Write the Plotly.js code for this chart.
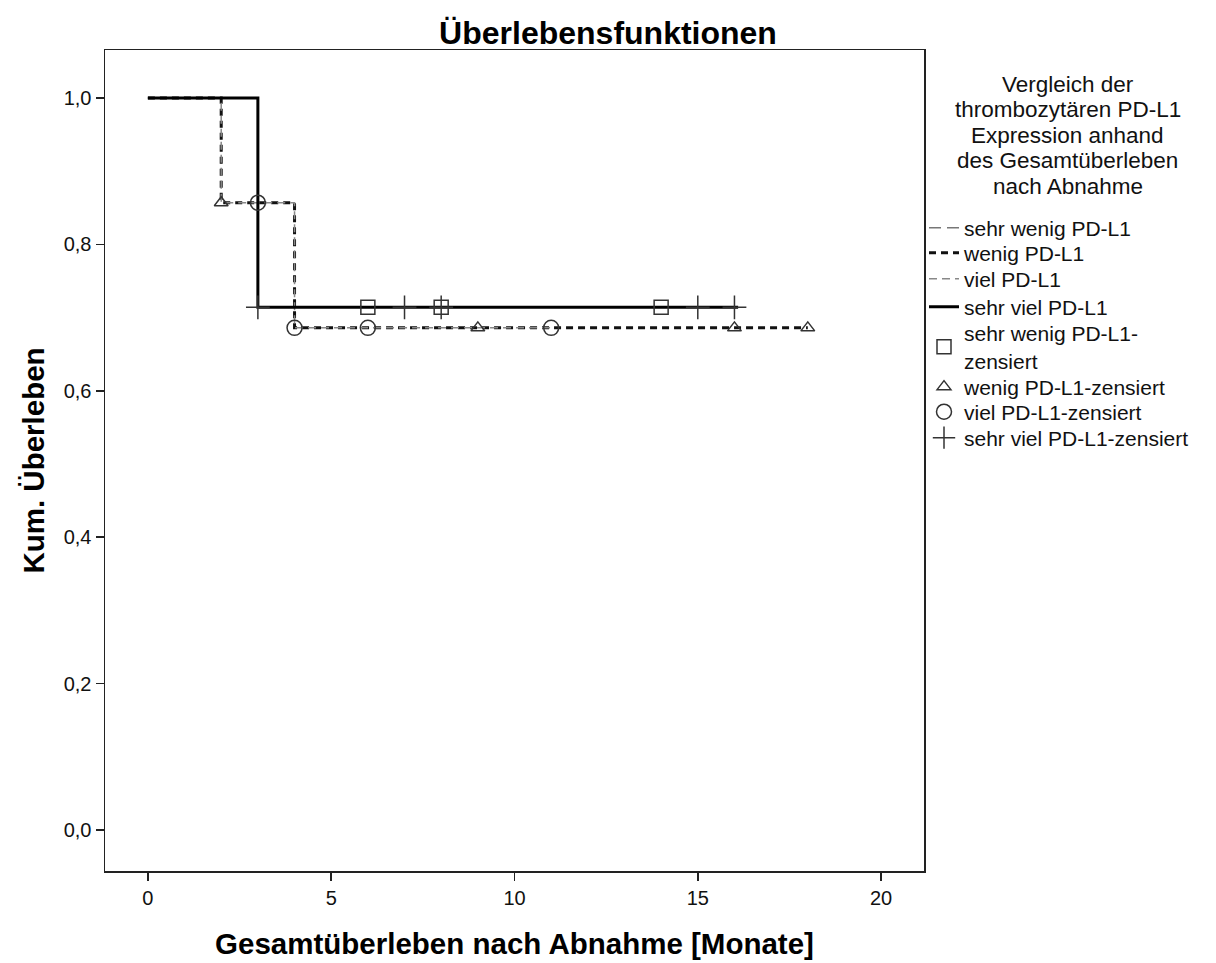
<!DOCTYPE html>
<html>
<head>
<meta charset="utf-8">
<script src="https://cdn.plot.ly/plotly-3.0.1.min.js"></script>
<style>html,body{margin:0;padding:0;background:#fff;}#chart{width:1216px;height:963px;}</style>
</head>
<body>
<div id="chart"></div>
<script>
// Step curves (Kaplan-Meier)
const sehrWenigX = [0, 3, 3, 14];
const sehrWenigY = [1.0, 1.0, 0.714, 0.714];
const wenigX = [0, 2, 2, 4, 4, 18];
const wenigY = [1.0, 1.0, 0.857, 0.857, 0.686, 0.686];
const vielX = [0, 2, 2, 4, 4, 11];
const vielY = [1.0, 1.0, 0.857, 0.857, 0.686, 0.686];
const sehrVielX = [0, 3, 3, 16.1];
const sehrVielY = [1.0, 1.0, 0.714, 0.714];

// Censored observations
const sehrWenigCensX = [6, 8, 14];
const sehrWenigCensY = [0.714, 0.714, 0.714];
const wenigCensX = [2, 9, 16, 18];
const wenigCensY = [0.857, 0.686, 0.686, 0.686];
const vielCensX = [3, 4, 6, 11];
const vielCensY = [0.857, 0.686, 0.686, 0.686];
const sehrVielCensX = [3, 7, 8, 15, 16];
const sehrVielCensY = [0.714, 0.714, 0.714, 0.714, 0.714];

const names = ["sehr wenig PD-L1", "wenig PD-L1", "viel PD-L1", "sehr viel PD-L1"];
const censNames = ["sehr wenig PD-L1-<br>zensiert", "wenig PD-L1-zensiert", "viel PD-L1-zensiert", "sehr viel PD-L1-zensiert"];
const legendTitleLines = ["Vergleich der", "thrombozytären PD-L1", "Expression anhand", "des Gesamtüberleben", "nach Abnahme"];
const xTicks = [0, 5, 10, 15, 20];
const yTicks = [0, 0.2, 0.4, 0.6, 0.8, 1.0];

const legendIds = ["legend", "legend2", "legend3", "legend4", "legend5", "legend6", "legend7", "legend8"];

const traces = [
  {x: sehrWenigX, y: sehrWenigY, mode: "lines", name: names[0],
   line: {color: "#777", width: 1.5, dash: "12px,6px"}},
  {x: wenigX, y: wenigY, mode: "lines", name: names[1],
   line: {color: "#111", width: 3, dash: "7px,5px"}},
  {x: vielX, y: vielY, mode: "lines", name: names[2],
   line: {color: "#888", width: 1.5, dash: "8px,5px"}},
  {x: sehrVielX, y: sehrVielY, mode: "lines", name: names[3],
   line: {color: "#000", width: 3}},
  {x: sehrWenigCensX, y: sehrWenigCensY, mode: "markers", name: censNames[0],
   marker: {symbol: "square-open", size: 14, color: "#333", line: {width: 1.5, color: "#333"}}},
  {x: wenigCensX, y: wenigCensY, mode: "markers", name: censNames[1],
   marker: {symbol: "triangle-up-open", size: 12, color: "#333", line: {width: 1.5, color: "#333"}}},
  {x: vielCensX, y: vielCensY, mode: "markers", name: censNames[2],
   marker: {symbol: "circle-open", size: 15, color: "#333", line: {width: 1.5, color: "#333"}}},
  {x: sehrVielCensX, y: sehrVielCensY, mode: "markers", name: censNames[3],
   marker: {symbol: "cross-thin-open", size: 17, color: "#333", line: {width: 1.5, color: "#333"}}}
];
traces.forEach((t, i) => { t.legend = legendIds[i]; });

const font = "Liberation Sans, Arial, sans-serif";

// plot area in pixels: top 50, bottom 871 -> paper fraction helper
const plotTop = 50, plotBottom = 871;
const py = p => (plotBottom - p) / (plotBottom - plotTop);
const itemCenters = [228, 253, 279, 307, 347, 387, 412, 438];
const titleCenters = [84, 109.5, 135, 160.5, 186];

const layout = {
  width: 1216, height: 963,
  paper_bgcolor: "#fff", plot_bgcolor: "#fff",
  separators: ",.",
  margin: {l: 105, r: 292, t: plotTop, b: 963 - plotBottom},
  font: {family: font, color: "#000", size: 20},
  title: {text: "<b>Überlebensfunktionen</b>", font: {family: font, size: 32, color: "#000"},
          x: 0.5, xref: "container", y: 0.966, yanchor: "middle"},
  xaxis: {range: [-1.17, 21.17], tickvals: xTicks,
          ticks: "outside", ticklen: 8, tickwidth: 1.5, tickcolor: "#222",
          showline: true, mirror: true, linecolor: "#222", linewidth: 1.5,
          showgrid: false, zeroline: false,
          tickfont: {family: font, size: 20, color: "#111"},
          title: {text: "<b>Gesamtüberleben nach Abnahme [Monate]</b>", font: {family: font, size: 29.5}, standoff: 26}},
  yaxis: {range: [-0.056, 1.0656], tickvals: yTicks, tickformat: ".1f",
          ticks: "outside", ticklen: 8, tickwidth: 1.5, tickcolor: "#222",
          showline: true, mirror: true, linecolor: "#222", linewidth: 1.5,
          showgrid: false, zeroline: false,
          tickfont: {family: font, size: 20, color: "#111"},
          title: {text: "<b>Kum. Überleben</b>", font: {family: font, size: 29.5}, standoff: 10}},
  annotations: legendTitleLines.map((t, i) => ({
    text: t, xref: "paper", yref: "paper", x: 1.1755, y: py(titleCenters[i]),
    xanchor: "center", yanchor: "middle", showarrow: false, borderpad: 0,
    font: {family: font, size: 22.5, color: "#111"}
  })),
  showlegend: true
};

legendIds.forEach((id, i) => {
  layout[id] = {x: 1.0, xanchor: "left", y: py(itemCenters[i]), yanchor: "middle",
                bgcolor: "rgba(0,0,0,0)", borderwidth: 0, itemwidth: 30,
                font: {family: font, size: 21, color: "#111"}};
});

Plotly.newPlot("chart", traces, layout, {displayModeBar: false, staticPlot: true});
</script>
</body>
</html>
